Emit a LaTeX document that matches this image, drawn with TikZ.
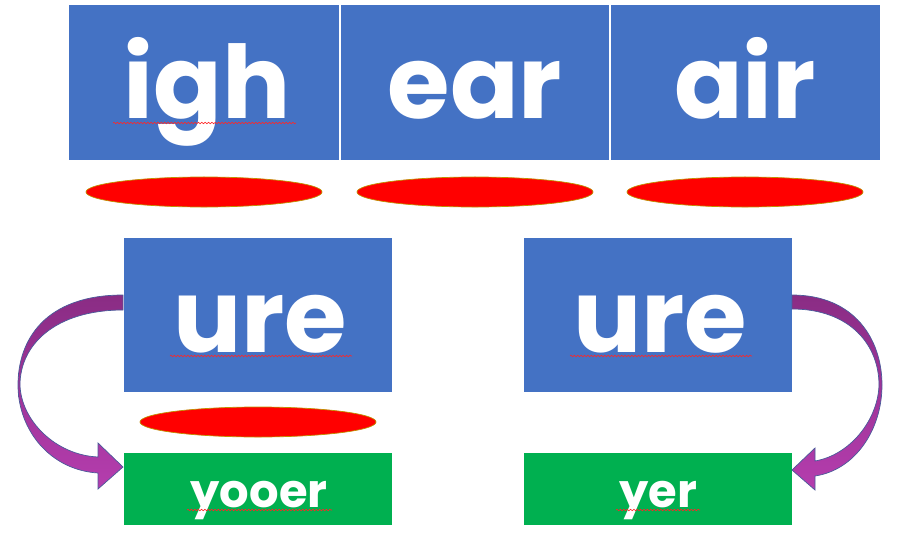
\documentclass[tikz,border=0pt]{standalone}
\usepackage{fontspec}
\setmainfont{Poppins}
\usetikzlibrary{shapes.geometric,decorations.pathmorphing}
\definecolor{boxblue}{HTML}{4472C4}
\definecolor{boxgreen}{HTML}{00B050}
\definecolor{ovalred}{HTML}{FF0000}
\definecolor{ovalrim}{HTML}{C09000}
\definecolor{arrdark}{HTML}{8A2C84}
\definecolor{arrlight}{HTML}{B53DAE}
\definecolor{arredge}{HTML}{4A5A9A}
\tikzset{
  bluebox/.style={fill=boxblue, draw=white, line width=0.6pt},
  greenbox/.style={fill=boxgreen, draw=white, line width=0.4pt},
  oval/.style={ellipse, fill=ovalred, draw=ovalrim, line width=0.5pt, minimum width=5.9cm, minimum height=0.75cm, inner sep=0pt},
  bigtxt/.style={anchor=base, text=white, font=\fontsize{72}{76}\selectfont\bfseries, inner sep=0pt},
  smalltxt/.style={anchor=base, text=white, font=\fontsize{33}{36}\selectfont\bfseries, inner sep=0pt},
  squig/.style={draw=red!85, line width=0.45pt, decorate, decoration={snake, amplitude=0.5pt, segment length=2.4pt}},
  curvearrow/.style={draw=arredge, line width=0.5pt, top color=arrdark, bottom color=arrlight}
}
\begin{document}
\begin{tikzpicture}[x=0.025cm, y=-0.025cm]
\useasboundingbox (0,0) rectangle (897,533);
% top row boxes
\draw[bluebox] (68,4) rectangle (339,160);
\draw[bluebox] (340,4) rectangle (609,160);
\draw[bluebox] (610,4) rectangle (880,160);
\node[bigtxt] (igh) at (207,118) {igh};
\node[bigtxt] (ear) at (475,118) {ear};
\node[bigtxt] (air) at (745,118) {air};
% top ovals
\node[oval] (o1) at (204,192) {};
\node[oval] (o2) at (475,192) {};
\node[oval] (o3) at (745,192) {};
% ure boxes
\draw[bluebox] (123,237) rectangle (392,392);
\draw[bluebox] (523,237) rectangle (792,392);
\node[bigtxt] (ure1) at (260,352) {ure};
\node[bigtxt] (ure2) at (660,352) {ure};
% oval under left ure
\node[oval] (o4) at (258,422) {};
% green boxes
\draw[greenbox] (123,452) rectangle (392,525);
\draw[greenbox] (523,452) rectangle (792,525);
\node[smalltxt] (yooer) at (259,507) {yooer};
\node[smalltxt] (yer) at (658,507) {yer};
% spell-check squiggles
\draw[squig] (113,123) -- (296,123);
\draw[squig] (170,356) -- (352,356);
\draw[squig] (570,356) -- (752,356);
\draw[squig] (187,510) -- (332,510);
\draw[squig] (616,510) -- (700,510);
% left curved arrow
\draw[curvearrow] (123,295) .. controls (45,295) and (18,340) .. (18,385)
  .. controls (18,430) and (50,470) .. (98,473) -- (98,489) -- (123,467) -- (98,443) -- (98,457)
  .. controls (55,455) and (21,420) .. (20,385)
  .. controls (20,345) and (55,310) .. (123,310) -- cycle;
% right curved arrow
\draw[curvearrow] (792,295) .. controls (855,295) and (882,340) .. (882,385)
  .. controls (882,430) and (855,470) .. (815,476) -- (815,490) -- (792,470) -- (815,448) -- (815,461)
  .. controls (850,455) and (878,420) .. (879,385)
  .. controls (879,345) and (850,309) .. (792,309) -- cycle;
\end{tikzpicture}
\end{document}
